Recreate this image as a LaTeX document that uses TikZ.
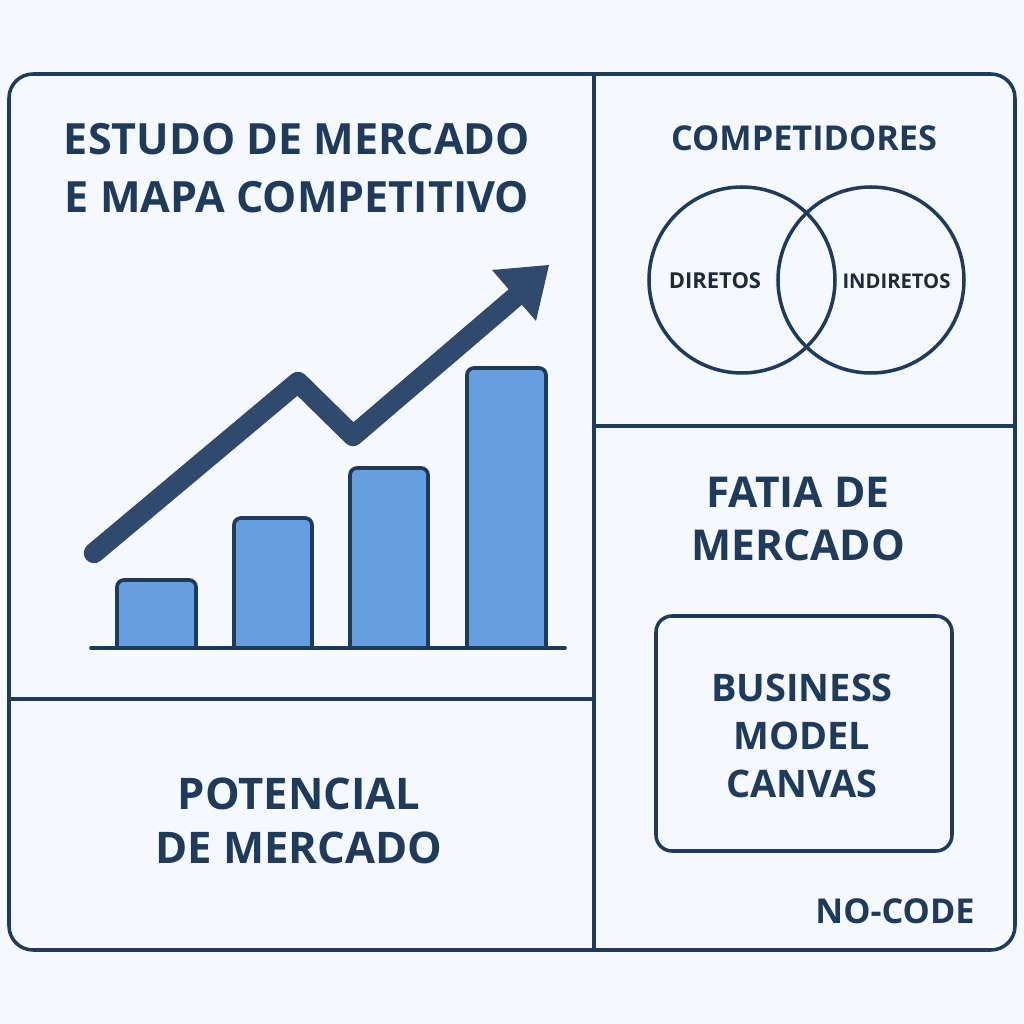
\documentclass[tikz,border=0pt]{standalone}
\usepackage{fontspec}
\setmainfont{Open Sans}
\usepackage{tikz}
\usetikzlibrary{calc}
\definecolor{navy}{HTML}{1F3B5C}
\definecolor{arrowblue}{HTML}{2F4A6D}
\definecolor{barblue}{HTML}{659FDF}
\definecolor{paper}{HTML}{F5F8FC}
\definecolor{inkdark}{HTML}{1E2A38}
\tikzset{
    panel/.style={draw=navy,line width=1pt},
    bar/.style={draw=navy,line width=1.05pt,fill=barblue,rounded corners=.7mm},
    titletext/.style={text=navy,font=\fontsize{12.25}{16.4}\selectfont\bfseries,align=center},
    bigtext/.style={text=navy,font=\fontsize{12.1}{14.9}\selectfont\bfseries,align=center},
    midtext/.style={text=navy,font=\fontsize{9.75}{12}\selectfont\bfseries,align=center},
    boxtext/.style={text=navy,font=\fontsize{10.8}{13.6}\selectfont\bfseries,align=center},
    vennlabel/.style={text=inkdark,font=\fontsize{6.25}{8}\selectfont\bfseries,align=center}
}
\begin{document}
\begin{tikzpicture}
    \fill[paper] (0,0) rectangle (10.24,10.24);
    \useasboundingbox (0,0) rectangle (10.24,10.24);

    % frame and panels
    \draw[panel,rounded corners=2.4mm] (.09,.74) rectangle (10.15,9.5);
    \draw[panel] (5.94,9.5) -- (5.94,.74);
    \draw[panel] (.09,3.25) -- (5.94,3.25);
    \draw[panel] (5.94,5.98) -- (10.15,5.98);
    \draw[panel,rounded corners=1.6mm] (6.56,1.73) rectangle (9.52,4.08);

    % bars
    \draw[bar] (1.17,3.76) -- (1.17,4.44) -- (1.96,4.44) -- (1.96,3.76);
    \draw[bar] (2.34,3.76) -- (2.34,5.06) -- (3.12,5.06) -- (3.12,3.76);
    \draw[bar] (3.50,3.76) -- (3.50,5.56) -- (4.28,5.56) -- (4.28,3.76);
    \draw[bar] (4.67,3.76) -- (4.67,6.56) -- (5.46,6.56) -- (5.46,3.76);
    \draw[navy,line width=1.05pt,line cap=round] (.91,3.76) -- (5.65,3.76);

    % rising line
    \draw[arrowblue,line width=5.8pt,line cap=round,line join=round] (.94,4.71) -- (2.98,6.42) -- (3.53,5.88) -- (5.2,7.31);
    \fill[arrowblue] (4.92,7.54) -- (5.49,7.59) -- (5.36,7.03) -- cycle;

    % circles
    \draw[panel] (7.42,7.44) circle (.93);
    \draw[panel] (8.71,7.44) circle (.93);

    % labels
    \node[titletext] (title) at (2.97,8.56) {ESTUDO DE MERCADO\\E MAPA COMPETITIVO};
    \node[midtext] (comp) at (8.04,8.86) {COMPETIDORES};
    \node[vennlabel] (dir) at (7.15,7.43) {DIRETOS};
    \node[vennlabel,font=\fontsize{5.75}{8}\selectfont\bfseries] (ind) at (8.965,7.43) {INDIRETOS};
    \node[bigtext] (fatia) at (7.98,5.05) {FATIA DE\\MERCADO};
    \node[boxtext] (bmc) at (8.02,2.88) {BUSINESS\\MODEL\\CANVAS};
    \node[titletext,font=\fontsize{12.4}{15.4}\selectfont\bfseries] (pot) at (2.99,2.03) {POTENCIAL\\DE MERCADO};
    \node[midtext] (nocode) at (8.95,1.13) {NO-CODE};
\end{tikzpicture}
\end{document}
